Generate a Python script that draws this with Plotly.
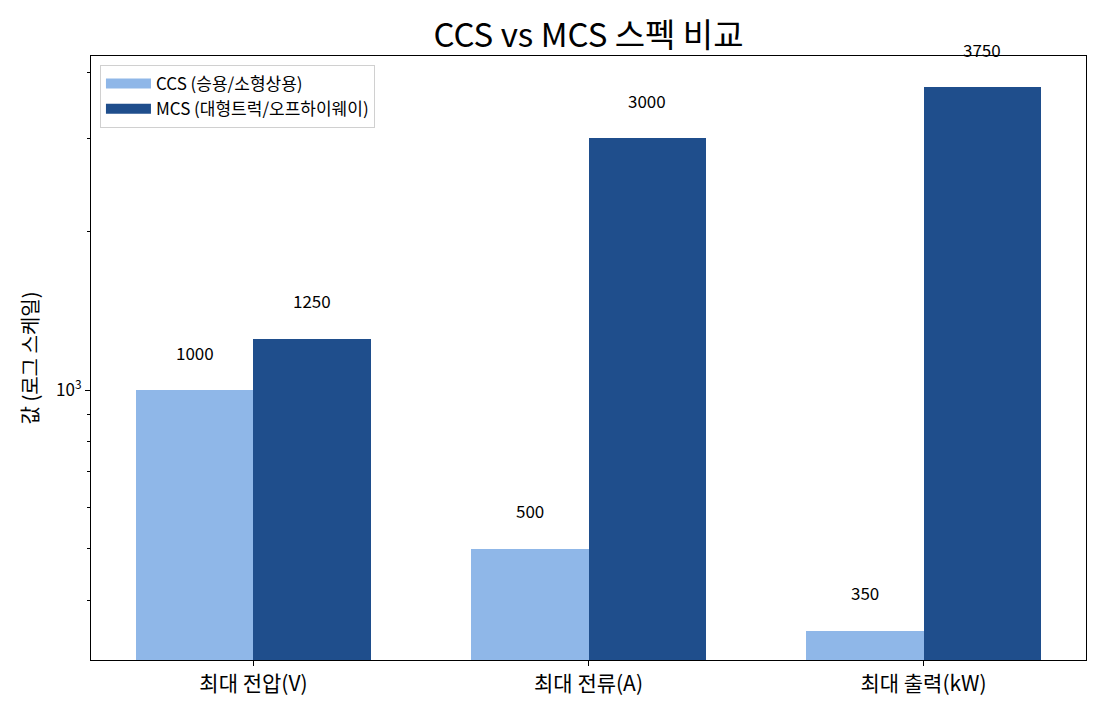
import plotly.graph_objects as go
import numpy as np

# chart data
categories = ["최대 전압(V)", "최대 전류(A)", "최대 출력(kW)"]
ccs_values = [1000, 500, 350]
mcs_values = [1250, 3000, 3750]
series_names = ["CCS (승용/소형상용)", "MCS (대형트럭/오프하이웨이)"]
series_colors = ["#8FB7E8", "#1F4E8C"]
major_ticks = [1000]
major_labels = ["10<sup>3</sup>"]
minor_ticks = [400, 500, 600, 700, 800, 900, 2000, 3000, 4000]

FONT = "Noto Sans CJK KR"
bar_w = 0.35
x_pos = np.arange(len(categories))

fig = go.Figure()
fig.add_trace(go.Bar(
    name=series_names[0], x=x_pos, y=ccs_values,
    width=bar_w, offset=-bar_w, showlegend=False,
    marker=dict(color=series_colors[0], line=dict(width=0)),
))
fig.add_trace(go.Bar(
    name=series_names[1], x=x_pos, y=mcs_values,
    width=bar_w, offset=0, showlegend=False,
    marker=dict(color=series_colors[1], line=dict(width=0)),
))
# legend entries drawn as wide patches (like the reference)
for name, col in zip(series_names, series_colors):
    fig.add_trace(go.Scatter(
        x=[None], y=[None], mode="lines", name=name,
        line=dict(color=col, width=12),
    ))

# value labels above each bar
for vals, shift in ((ccs_values, -bar_w / 2), (mcs_values, bar_w / 2)):
    for xi, v in zip(x_pos, vals):
        fig.add_annotation(
            x=xi + shift, y=np.log10(v), text=str(v),
            showarrow=False, yshift=38, xref="x", yref="y",
            font=dict(family=FONT, size=17, color="black"),
        )

fig.update_layout(
    width=1105, height=715,
    paper_bgcolor="white", plot_bgcolor="white",
    margin=dict(l=83, r=27, t=48, b=63),
    font=dict(family=FONT, color="black"),
    title=dict(text="CCS vs MCS 스펙 비교", x=0.5, xref="paper", xanchor="center",
               y=0.962, yanchor="middle",
               font=dict(family=FONT, size=33, color="black")),
    barmode="overlay",
    bargap=0,
    showlegend=True,
    legend=dict(x=0.009, y=0.985, xanchor="left", yanchor="top",
                bgcolor="rgba(255,255,255,0.8)", bordercolor="#d0d0d0", borderwidth=1,
                font=dict(family=FONT, size=17), itemwidth=45,
                tracegroupgap=2),
)

fig.update_xaxes(
    range=[-0.485, 2.485], tickmode="array", tickvals=x_pos, ticktext=categories,
    ticks="outside", ticklen=5, tickcolor="black", tickfont=dict(family=FONT, size=21),
    showline=True, linecolor="black", linewidth=1, mirror=True,
    showgrid=False, zeroline=False,
)
fig.update_yaxes(
    type="log", range=[np.log10(308), np.log10(4295)],
    tickmode="array", tickvals=major_ticks, ticktext=major_labels,
    ticks="outside", ticklen=5, tickcolor="black", tickfont=dict(family=FONT, size=17),
    minor=dict(tickmode="array", tickvals=minor_ticks, ticks="outside", ticklen=3,
               tickcolor="black", showgrid=False),
    showline=True, linecolor="black", linewidth=1, mirror=True,
    showgrid=False, zeroline=False,
    title=dict(text="값 (로그 스케일)", font=dict(family=FONT, size=20), standoff=12),
)

fig.write_html("out.html")
